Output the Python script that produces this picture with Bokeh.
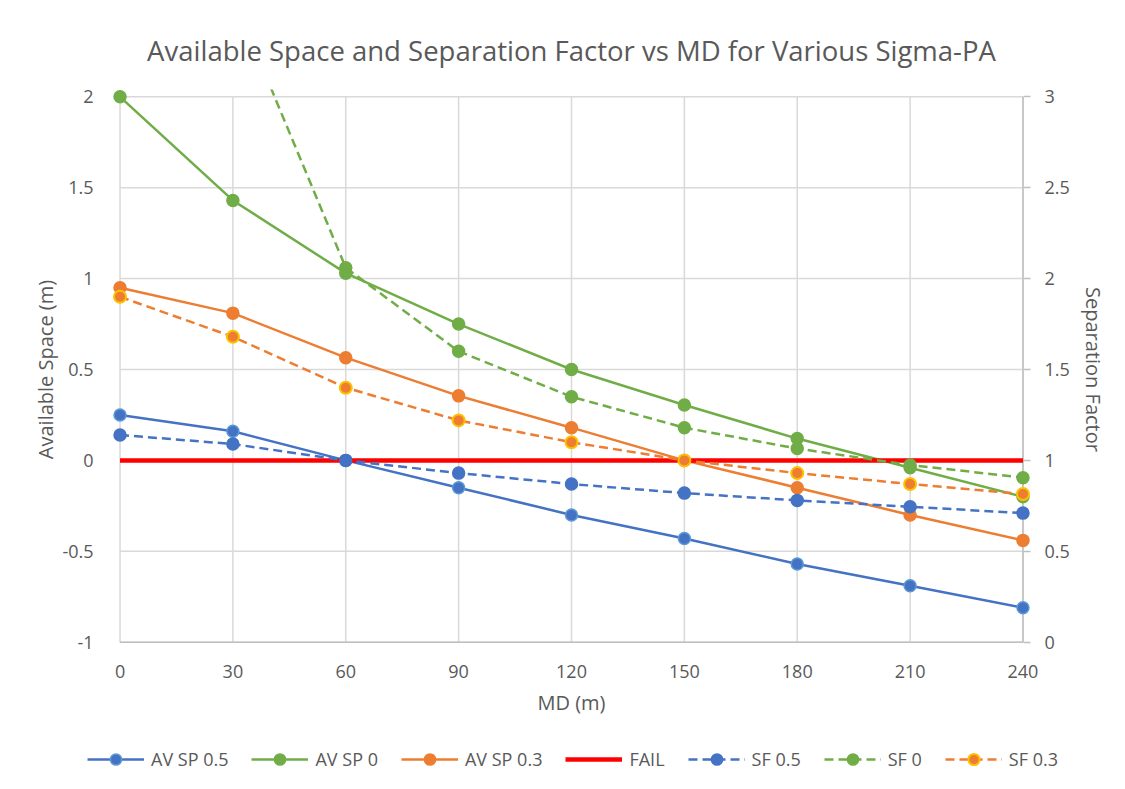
from bokeh.plotting import figure
from bokeh.layouts import column
from bokeh.models import (Range1d, LinearAxis, Legend, LegendItem, FixedTicker,
                          ColumnDataSource, CustomJSTickFormatter)
from bokeh.embed import file_html
from bokeh.resources import INLINE

# ---- data ----
md = [0, 30, 60, 90, 120, 150, 180, 210, 240]
av_sp_05 = [0.25, 0.16, 0.0, -0.15, -0.30, -0.43, -0.57, -0.69, -0.81]
av_sp_0 = [2.0, 1.43, 1.03, 0.75, 0.50, 0.305, 0.12, -0.04, -0.20]
av_sp_03 = [0.95, 0.81, 0.565, 0.355, 0.18, 0.0, -0.15, -0.30, -0.44]
fail = [0, 0, 0, 0, 0, 0, 0, 0, 0]
sf_05 = [1.14, 1.09, 1.0, 0.93, 0.87, 0.82, 0.78, 0.745, 0.71]
sf_0 = [float("nan"), 3.55, 2.06, 1.60, 1.35, 1.18, 1.065, 0.975, 0.905]
sf_03 = [1.90, 1.68, 1.40, 1.22, 1.10, 1.0, 0.93, 0.87, 0.815]

x_ticks = [0, 30, 60, 90, 120, 150, 180, 210, 240]
left_ticks = [-1, -0.5, 0, 0.5, 1, 1.5, 2]
right_ticks = [0, 0.5, 1, 1.5, 2, 2.5, 3]

X_MIN, X_MAX = 0, 240
YL_MIN, YL_MAX = -1, 2
YR_MIN, YR_MAX = 0, 3

BLUE = "#4472C4"
BLUE_LIGHT = "#5B9BD5"
GREEN = "#70AD47"
ORANGE = "#ED7D31"
GOLD = "#FFC000"
RED = "#FF0000"
GRID = "#D9D9D9"
AXIS = "#BFBFBF"
TEXT = "#595959"
FONT = "Open Sans"

xpad = 2.0
ypad = 0.0402

W = 1109
MAIN_H = 729
LEG_H = 44

p = figure(width=W, height=MAIN_H, output_backend="svg", toolbar_location=None,
           x_range=Range1d(X_MIN - xpad, X_MAX + xpad),
           y_range=Range1d(YL_MIN - ypad, YL_MAX + ypad),
           min_border_left=112, min_border_right=78, min_border_top=89,
           min_border_bottom=MAIN_H - 89 - 560,
           title="Available Space and Separation Factor vs MD for Various Sigma-PA")
p.frame_align = False
p.extra_y_ranges = {"sf": Range1d(YR_MIN - ypad, YR_MAX + ypad)}
p.outline_line_color = None
p.xgrid.visible = False
p.ygrid.visible = False

p.title.text_font = FONT
p.title.text_font_size = "27.5px"
p.title.text_font_style = "normal"
p.title.text_color = TEXT
p.title.align = "center"
p.title.standoff = 41

# manual grid lines (limited to data extents)
p.segment(x0=x_ticks, y0=[YL_MIN] * len(x_ticks), x1=x_ticks, y1=[YL_MAX] * len(x_ticks),
          line_color=GRID, line_width=1.5)
p.segment(x0=[X_MIN] * len(left_ticks), y0=left_ticks, x1=[X_MAX] * len(left_ticks), y1=left_ticks,
          line_color=GRID, line_width=1.5)
# axis lines (bottom and right)
p.segment(x0=[X_MIN], y0=[YL_MIN], x1=[X_MAX], y1=[YL_MIN], line_color=AXIS, line_width=1.5)
p.segment(x0=[X_MAX], y0=[YL_MIN], x1=[X_MAX], y1=[YL_MAX], line_color=AXIS, line_width=1.5)

fmt_code = "return String(tick);"

xa = p.xaxis[0]
xa.ticker = FixedTicker(ticks=x_ticks)
xa.axis_line_color = None
xa.major_tick_line_color = None
xa.minor_tick_line_color = None
xa.major_label_standoff = 9
xa.axis_label = "MD (m)"
xa.axis_label_standoff = 8

ya = p.yaxis[0]
ya.ticker = FixedTicker(ticks=left_ticks)
ya.axis_line_color = None
ya.major_tick_line_color = None
ya.minor_tick_line_color = None
ya.major_label_standoff = 13
ya.axis_label = "Available Space (m)"
ya.axis_label_standoff = 0

ra = LinearAxis(y_range_name="sf", ticker=FixedTicker(ticks=right_ticks))
ra.axis_line_color = None
ra.major_tick_line_color = AXIS
ra.major_tick_line_width = 1.5
ra.major_tick_in = 7
ra.major_tick_out = 0
ra.minor_tick_line_color = None
ra.major_label_standoff = 14
ra.axis_label = "Separation Factor"
ra.axis_label_standoff = 7
p.add_layout(ra, "right")

for ax in (xa, ya, ra):
    ax.formatter = CustomJSTickFormatter(code=fmt_code)
    ax.major_label_text_font = FONT
    ax.major_label_text_font_size = "18px"
    ax.major_label_text_color = TEXT
    ax.axis_label_text_font = FONT
    ax.axis_label_text_font_size = "20px"
    ax.axis_label_text_font_style = "normal"
    ax.axis_label_text_color = TEXT

# legend-only strip underneath (its ranges keep the series out of view)
lf = figure(width=W, height=LEG_H, output_backend="svg", toolbar_location=None,
            x_range=Range1d(1000, 1001), y_range=Range1d(1000, 1001),
            x_axis_location=None, y_axis_location=None,
            min_border_left=0, min_border_right=0, min_border_top=0, min_border_bottom=0)
lf.frame_align = False
lf.grid.visible = False
lf.outline_line_color = None

MS = 12
items = []

def series(name, ys, color, dash="solid", fill=None, outline=None, olw=1.5, rng="default", lw=2.5):
    src = ColumnDataSource(dict(x=md, y=ys))
    kw_line = dict(line_color=color, line_width=lw, line_dash=dash)
    kw_mark = dict(size=MS, fill_color=fill or color, line_color=outline or color, line_width=olw)
    p.line("x", "y", source=src, y_range_name=rng, **kw_line)
    p.scatter("x", "y", source=src, y_range_name=rng, **kw_mark)
    l1 = lf.line("x", "y", source=src, **kw_line)
    l2 = lf.scatter("x", "y", source=src, **kw_mark)
    items.append(LegendItem(label=name, renderers=[l1, l2]))

series("AV SP 0.5", av_sp_05, BLUE, outline=BLUE_LIGHT)
series("AV SP 0", av_sp_0, GREEN)
series("AV SP 0.3", av_sp_03, ORANGE)
p.line(md, fail, line_color=RED, line_width=4.5)
lfail = lf.line(md, fail, line_color=RED, line_width=4.5)
items.append(LegendItem(label="FAIL", renderers=[lfail]))
series("SF 0.5", sf_05, BLUE, dash="9 5", rng="sf")
series("SF 0", sf_0, GREEN, dash="9 5", rng="sf")
series("SF 0.3", sf_03, ORANGE, dash="9 5", outline=GOLD, olw=2, rng="sf")

legend = Legend(items=items, orientation="horizontal", location=(87, 0),
                glyph_width=57, glyph_height=28, label_standoff=7, spacing=23,
                padding=0, margin=0, border_line_color=None, background_fill_alpha=0,
                label_text_font=FONT, label_text_font_size="18px", label_text_color=TEXT)
lf.add_layout(legend, "center")

layout = column(p, lf, spacing=0)
open("out.html", "w").write(file_html(layout, INLINE))
